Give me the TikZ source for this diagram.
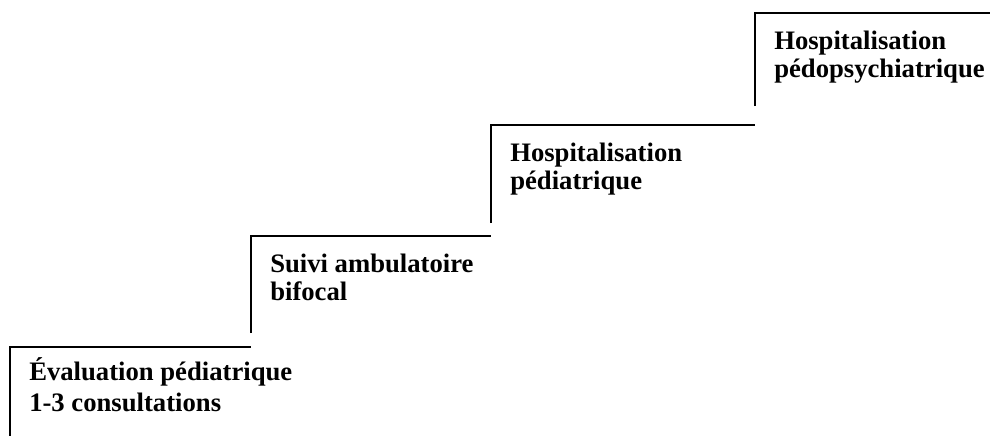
\documentclass[tikz,border=0pt]{standalone}
\usepackage{fontspec}
\setmainfont{Liberation Serif}

\newcommand{\drawstep}[6]{
    % left and top edge of the step
    \draw[stepline] (#1,#4) -- (#1,#2) -- (#3,#2);
    % text of the step (base anchor sits on the last line)
    \node[steptext] (#5) at (#1+19,#2+64) {#6};
}

\begin{document}
\begin{tikzpicture}[x=0.75pt, y=-0.75pt,
    stepline/.style={black, line width=1.3pt},
    steptext/.style={anchor=base west, inner sep=0pt, align=left,
        font=\fontsize{20}{21}\selectfont\bfseries}]
    \useasboundingbox (0,0) rectangle (990,436);

    % first step
    \drawstep{10}{347}{251}{436}{evaluation}{Évaluation pédiatrique\\[2pt]1-3 consultations}
    % second step
    \drawstep{251}{236}{491}{333}{suivi}{Suivi ambulatoire\\bifocal}
    % third step
    \drawstep{491}{125}{755}{223}{hosppediatrie}{Hospitalisation\\pédiatrique}
    % last step
    \drawstep{755}{13}{990}{106}{hosppsy}{Hospitalisation\\pédopsychiatrique}
\end{tikzpicture}
\end{document}
